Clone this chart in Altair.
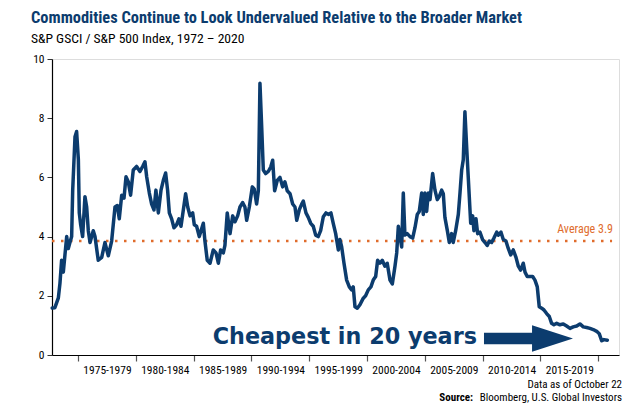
import altair as alt
import pandas as pd

# ---- data ----
years = [1972.77, 1973.0, 1973.3, 1973.44, 1973.58, 1973.73, 1974.02, 1974.16, 1974.3, 1974.45,
         1974.54, 1974.74, 1974.88, 1975.03, 1975.11, 1975.23, 1975.4, 1975.6, 1975.75, 1975.89,
         1976.04, 1976.32, 1976.47, 1976.75, 1977.05, 1977.33, 1977.62, 1977.91, 1978.2, 1978.4,
         1978.57, 1978.78, 1978.98, 1979.15, 1979.35, 1979.55, 1979.78, 1980.07, 1980.36, 1980.59,
         1980.79, 1980.94, 1981.17, 1981.37, 1981.57, 1981.74, 1981.95, 1982.18, 1982.38, 1982.58,
         1982.75, 1982.9, 1983.1, 1983.3, 1983.53, 1983.73, 1983.91, 1984.11, 1984.31, 1984.49,
         1984.69, 1984.92, 1985.06, 1985.26, 1985.49, 1985.84, 1985.98, 1986.18, 1986.42, 1986.7,
         1986.94, 1987.14, 1987.34, 1987.57, 1987.71, 1987.91, 1988.15, 1988.38, 1988.58, 1988.81,
         1989.01, 1989.24, 1989.44, 1989.59, 1989.82, 1990.08, 1990.25, 1990.45, 1990.6, 1990.74,
         1990.89, 1991.03, 1991.23, 1991.46, 1991.67, 1991.84, 1992.01, 1992.24, 1992.47, 1992.7,
         1992.9, 1993.1, 1993.34, 1993.57, 1993.77, 1993.92, 1994.14, 1994.35, 1994.49, 1994.72,
         1994.92, 1995.13, 1995.35, 1995.56, 1995.78, 1995.99, 1996.22, 1996.45, 1996.65, 1996.88,
         1997.08, 1997.29, 1997.52, 1997.66, 1997.81, 1998.01, 1998.24, 1998.47, 1998.67, 1998.81,
         1998.96, 1999.16, 1999.39, 1999.68, 1999.88, 2000.11, 2000.34, 2000.54, 2000.75, 2000.92,
         2001.12, 2001.32, 2001.55, 2001.75, 2001.99, 2002.19, 2002.42, 2002.57, 2002.71, 2002.85,
         2003.0, 2003.14, 2003.28, 2003.48, 2003.72, 2003.95, 2004.15, 2004.35, 2004.52, 2004.73,
         2004.87, 2005.01, 2005.16, 2005.3, 2005.45, 2005.68, 2005.88, 2006.08, 2006.25, 2006.46,
         2006.6, 2006.74, 2006.95, 2007.12, 2007.32, 2007.46, 2007.67, 2007.9, 2008.04, 2008.19,
         2008.33, 2008.47, 2008.62, 2008.76, 2008.97, 2009.14, 2009.25, 2009.43, 2009.57, 2009.77,
         2010.0, 2010.21, 2010.4, 2010.58, 2010.78, 2010.98, 2011.22, 2011.36, 2011.59, 2011.79,
         2012.02, 2012.22, 2012.43, 2012.65, 2012.89, 2013.09, 2013.29, 2013.52, 2013.67, 2013.86,
         2014.1, 2014.33, 2014.53, 2014.73, 2014.9, 2015.11, 2015.31, 2015.54, 2015.77, 2015.97,
         2016.17, 2016.41, 2016.69, 2016.98, 2017.27, 2017.56, 2017.84, 2018.14, 2018.42, 2018.71,
         2019.0, 2019.29, 2019.57, 2019.87, 2020.09, 2020.3, 2020.5, 2020.79]
ratio = [1.59, 1.6, 1.93, 2.43, 3.2, 2.8, 4.0, 3.6, 3.8, 4.0,
         5.57, 7.37, 7.55, 6.6, 4.8, 4.4, 4.0, 5.35, 5.0, 4.2,
         3.8, 4.2, 4.0, 3.2, 3.3, 3.8, 3.35, 3.85, 5.0, 5.05,
         4.6, 5.4, 5.3, 6.02, 5.85, 5.4, 6.25, 6.37, 6.2, 6.37,
         6.53, 6.02, 5.47, 5.1, 4.9, 5.57, 4.8, 5.57, 5.9, 6.15,
         5.57, 4.8, 4.6, 4.3, 4.4, 4.6, 4.35, 4.9, 5.45, 5.0,
         4.7, 4.8, 4.4, 4.35, 4.0, 4.45, 3.85, 3.2, 3.1, 3.55,
         3.45, 3.1, 3.55, 3.45, 3.7, 4.8, 4.1, 4.7, 4.5, 4.7,
         5.0, 5.15, 5.0, 4.55, 5.0, 5.68, 5.6, 5.1, 5.55, 9.18,
         7.7, 6.25, 6.13, 6.2, 6.35, 6.58, 5.55, 5.9, 6.0, 5.68,
         5.85, 5.55, 5.45, 5.1, 5.0, 4.55, 4.9, 5.1, 5.2, 4.8,
         4.65, 4.45, 4.35, 4.05, 4.0, 4.2, 4.67, 4.8, 4.75, 4.8,
         4.45, 4.1, 3.55, 3.9, 3.65, 3.1, 2.53, 2.3, 2.2, 2.3,
         1.63, 1.58, 1.7, 1.92, 2.0, 2.2, 2.3, 2.53, 2.65, 3.2,
         3.1, 3.2, 3.0, 3.1, 2.53, 2.4, 3.0, 3.45, 4.35, 4.0,
         3.65, 5.47, 4.05, 4.1, 4.0, 3.95, 4.3, 4.75, 4.85, 5.47,
         4.75, 5.47, 4.85, 5.47, 5.25, 6.13, 5.57, 5.25, 5.35, 5.57,
         5.45, 4.65, 4.2, 3.8, 4.1, 3.8, 4.2, 4.75, 5.45, 6.25,
         6.6, 8.22, 7.03, 6.0, 4.45, 4.7, 4.2, 4.6, 4.1, 4.15,
         3.9, 3.8, 3.7, 3.85, 3.8, 3.95, 4.15, 4.05, 4.15, 3.9,
         3.85, 3.6, 3.38, 3.55, 3.3, 3.0, 2.87, 3.1, 2.8, 2.65,
         2.65, 2.65, 2.53, 2.3, 1.63, 1.58, 1.52, 1.4, 1.3, 1.07,
         1.02, 1.07, 1.02, 1.05, 0.98, 0.9, 0.95, 0.98, 1.05, 0.95,
         0.93, 0.9, 0.86, 0.8, 0.72, 0.48, 0.52, 0.5]

tick_years = [1975, 1980, 1985, 1990, 1995, 2000, 2005, 2010, 2015, 2020]
y_ticks = [0, 2, 4, 6, 8, 10]
x_domain = [1972.75, 2021.8]
y_domain = [0, 10]

avg_value = 3.85
avg_span = [1972.75, 2021.2]
avg_label = "Average 3.9"
avg_label_pos = [2021.28, 4.12]

callout = "Cheapest in 20 years"
callout_pos = [1986.65, 0.37]
arrow_pos = [2013.97, 0.557]

title = "Commodities Continue to Look Undervalued Relative to the Broader Market"
subtitle = "S&P GSCI / S&P 500 Index, 1972 \u2013 2020"
note = "Data as of October 22"
source_bold = "Source:"
source_rest = "Bloomberg, U.S. Global Investors"

NAVY = "#0c3c6e"
ORANGE = "#e06c2c"
NARROW = "Liberation Sans Narrow, Roboto Condensed, Arial Narrow, sans-serif"

line_df = pd.DataFrame({"year": years, "ratio": ratio})
avg_df = pd.DataFrame({"year": [avg_span[0]], "year2": [avg_span[1]], "ratio": [avg_value]})
avg_txt_df = pd.DataFrame({"year": [avg_label_pos[0]], "ratio": [avg_label_pos[1]], "t": [avg_label]})
call_df = pd.DataFrame({"year": [callout_pos[0]], "ratio": [callout_pos[1]], "t": [callout]})
arrow_df = pd.DataFrame({"year": [arrow_pos[0]], "ratio": [arrow_pos[1]]})

x_scale = alt.Scale(domain=x_domain, nice=False, zero=False)
y_scale = alt.Scale(domain=y_domain, nice=False, zero=True)

x_axis = alt.Axis(
    values=tick_years,
    labelExpr="datum.value < 2020 ? datum.value + '-' + (datum.value + 4) : ''",
    labelOffset=29, tickSize=6, labelPadding=3, grid=False, title=None,
    labelFont=NARROW, labelFontSize=11.5, labelColor="black",
    domainColor="black", domainWidth=1.2, tickColor="#555", tickWidth=1.2,
    labelOverlap=False, labelFlush=False, labelBound=False,
)
y_axis = alt.Axis(
    values=y_ticks, format="d", tickSize=5, labelPadding=3, grid=False, title=None,
    labelFont=NARROW, labelFontSize=11.5, labelColor="black",
    domainColor="black", domainWidth=1.2, tickColor="#333", tickWidth=1,
)

X = alt.X("year:Q", scale=x_scale, axis=x_axis)
Y = alt.Y("ratio:Q", scale=y_scale, axis=y_axis)

avg_rule = alt.Chart(avg_df).mark_rule(
    color=ORANGE, strokeWidth=2.5, strokeDash=[2.5, 6.5]
).encode(x=X, x2="year2:Q", y=Y)

line = alt.Chart(line_df).mark_line(
    color=NAVY, strokeWidth=3.5, strokeJoin="round", strokeCap="round"
).encode(x=X, y=Y)

avg_txt = alt.Chart(avg_txt_df).mark_text(
    align="right", baseline="alphabetic", color=ORANGE, font=NARROW, fontSize=12
).encode(x=X, y=Y, text="t:N")

call_txt = alt.Chart(call_df).mark_text(
    align="left", baseline="alphabetic", color=NAVY, font="DejaVu Sans",
    fontWeight="bold", fontSize=22.3
).encode(x=X, y=Y, text="t:N")

arrow_path = "M-1,-0.13L0.08,-0.13L0.08,-0.3L1,0L0.08,0.3L0.08,0.13L-1,0.13Z"
arrow = alt.Chart(arrow_df).mark_point(
    shape=arrow_path, filled=True, size=7921, color=NAVY, opacity=1, strokeWidth=0
).encode(x=X, y=Y)

note_txt = alt.Chart(pd.DataFrame({"t": [note]})).mark_text(
    align="right", baseline="alphabetic", color="black", font=NARROW, fontSize=11
).encode(x=alt.value(570), y=alt.value(329), text="t:N")

src_bold = alt.Chart(pd.DataFrame({"t": [source_bold]})).mark_text(
    align="right", baseline="alphabetic", color="black", font=NARROW, fontSize=11,
    fontWeight="bold"
).encode(x=alt.value(421), y=alt.value(342), text="t:N")

src_rest = alt.Chart(pd.DataFrame({"t": [source_rest]})).mark_text(
    align="right", baseline="alphabetic", color="black", font=NARROW, fontSize=11
).encode(x=alt.value(570), y=alt.value(342), text="t:N")

chart = alt.layer(
    avg_rule, line, avg_txt, call_txt, arrow, note_txt, src_bold, src_rest
).properties(
    width=567,
    height=296,
    autosize=alt.AutoSizeParams(type="none"),
    padding={"left": 44, "top": 51, "right": 17, "bottom": 49},
    title=alt.TitleParams(
        text=title, subtitle=subtitle, anchor="start", frame="group", dx=-21,
        font=NARROW, fontSize=16.4, fontWeight="bold", color=NAVY,
        subtitleFont=NARROW, subtitleFontSize=13.6, subtitleColor="black",
        subtitlePadding=6, offset=7,
    ),
).configure_view(stroke=None).configure(background="white")

chart.save("out.html", embed_options={"renderer": "svg", "actions": False})
